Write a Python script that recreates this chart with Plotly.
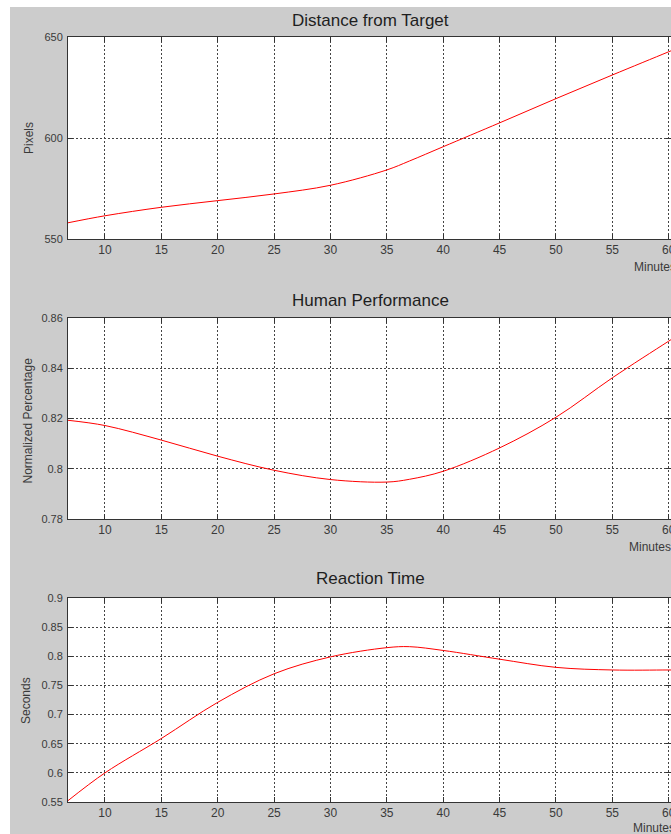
import plotly.graph_objects as go

# ---- data ----
minutes = [6.7, 10, 15, 20, 25, 30, 35, 37, 40, 45, 50, 55, 60, 62]
distance_px = [558.0, 561.5, 565.7, 569.0, 572.3, 576.6, 584.2, 588.6, 595.7, 607.5, 619.5, 631.2, 642.7, 647.3]
performance = [0.8193, 0.8172, 0.8114, 0.8050, 0.7994, 0.7957, 0.7947, 0.7958, 0.7990, 0.8083, 0.8205, 0.8362, 0.8508, 0.8565]
reaction_s = [0.552, 0.600, 0.659, 0.721, 0.770, 0.799, 0.8148, 0.8165, 0.8100, 0.795, 0.781, 0.7765, 0.7765, 0.7765]

titles = ["Distance from Target", "Human Performance", "Reaction Time"]
ylabels = ["Pixels", "Normalized Percentage", "Seconds"]
xlabel = "Minutes"
x_ticks = [10, 15, 20, 25, 30, 35, 40, 45, 50, 55, 60]
y1_ticks = [550, 600, 650]
y2_ticks = [0.78, 0.80, 0.82, 0.84, 0.86]
y2_text = ["0.78", "0.8", "0.82", "0.84", "0.86"]
y3_ticks = [0.55, 0.60, 0.65, 0.70, 0.75, 0.80, 0.85, 0.90]
y3_text = ["0.55", "0.6", "0.65", "0.7", "0.75", "0.8", "0.85", "0.9"]

# ---- layout geometry (pixels) ----
W, H = 671, 834
ML, MR, MT, MB = 68, 0, 37, 32
PW, PH = W - ML - MR, H - MT - MB


def px_x(px):
    return (px - ML) / PW


def px_y(py):
    return (H - MB - py) / PH


FONT = "Liberation Sans, Arial, sans-serif"
GRAY = "#cccccc"
AXC = "#333333"
TXT = "#3a3a3a"

fig = go.Figure()
series = [distance_px, performance, reaction_s]
for i, ys in enumerate(series):
    sfx = "" if i == 0 else str(i + 1)
    fig.add_trace(go.Scatter(
        x=minutes, y=ys, mode="lines",
        line=dict(color="#ff0000", width=1, shape="spline"),
        xaxis="x" + sfx, yaxis="y" + sfx, showlegend=False,
        hoverinfo="x+y",
    ))

common_x = dict(
    range=[6.72, 60.2], tickvals=x_ticks, showgrid=True, gridcolor="#444444",
    griddash="2px,2px", gridwidth=1, showline=True, linecolor=AXC, linewidth=1,
    mirror="ticks", ticks="inside", ticklen=5, tickcolor=AXC, zeroline=False,
    ticklabeloverflow="allow", automargin=False,
    tickfont=dict(family=FONT, size=12, color=TXT),
)
common_y = dict(
    showgrid=True, gridcolor="#444444", griddash="2px,2px", gridwidth=1,
    showline=True, linecolor=AXC, linewidth=1, mirror="ticks", ticks="inside",
    ticklen=5, tickcolor=AXC, zeroline=False, ticklabelstandoff=2,
    ticklabeloverflow="allow", automargin=False,
    tickfont=dict(family=FONT, size=11, color=TXT),
)

dom_top = [px_y(239), 1.0]
dom_mid = [px_y(519), px_y(318)]
dom_bot = [0.0, px_y(598)]

fig.update_layout(
    width=W, height=H, autosize=False,
    margin=dict(l=ML, r=MR, t=MT, b=MB, pad=0, autoexpand=False),
    paper_bgcolor=GRAY, plot_bgcolor="white",
    font=dict(family=FONT, color="#222222"),
    xaxis=dict(common_x, domain=[0, 1], anchor="y"),
    yaxis=dict(common_y, domain=dom_top, range=[550, 650], tickvals=y1_ticks, anchor="x"),
    xaxis2=dict(common_x, domain=[0, 1], anchor="y2"),
    yaxis2=dict(common_y, domain=dom_mid, range=[0.78, 0.86], tickvals=y2_ticks,
                ticktext=y2_text, anchor="x2"),
    xaxis3=dict(common_x, domain=[0, 1], anchor="y3"),
    yaxis3=dict(common_y, domain=dom_bot, range=[0.55, 0.9], tickvals=y3_ticks,
                ticktext=y3_text, anchor="x3"),
)

annots = []
title_py = [20, 300, 578]
for t, py in zip(titles, title_py):
    annots.append(dict(text=t, x=px_x(370), y=px_y(py), xref="paper", yref="paper",
                       xanchor="center", yanchor="middle", showarrow=False,
                       font=dict(family=FONT, size=17, color="#1e1e1e")))
ylab_pos = [(29, 138), (27.5, 421), (26, 701)]
for t, (px, py) in zip(ylabels, ylab_pos):
    annots.append(dict(text=t, x=px_x(px), y=px_y(py), xref="paper", yref="paper",
                       xanchor="center", yanchor="middle", showarrow=False, textangle=-90,
                       font=dict(family=FONT, size=12, color=TXT)))
xlab_pos = [(632, 267), (627, 547), (631, 828)]
for px, py in xlab_pos:
    annots.append(dict(text=xlabel, x=px_x(px), y=px_y(py), xref="paper", yref="paper",
                       xanchor="left", yanchor="middle", showarrow=False,
                       font=dict(family=FONT, size=12, color=TXT)))
fig.update_layout(annotations=annots)

# white border strips at left and top of the picture
fig.update_layout(shapes=[
    dict(type="rect", xref="paper", yref="paper", layer="above",
         x0=px_x(0), x1=px_x(10), y0=px_y(H + 2), y1=px_y(-2),
         fillcolor="white", line=dict(width=0)),
    dict(type="rect", xref="paper", yref="paper", layer="above",
         x0=px_x(0), x1=px_x(W + 2), y0=px_y(7), y1=px_y(-2),
         fillcolor="white", line=dict(width=0)),
])

fig.write_html(
    "out.html",
    config={"displayModeBar": False},
    post_script="document.body.style.margin='0';document.body.style.overflow='hidden';",
)
